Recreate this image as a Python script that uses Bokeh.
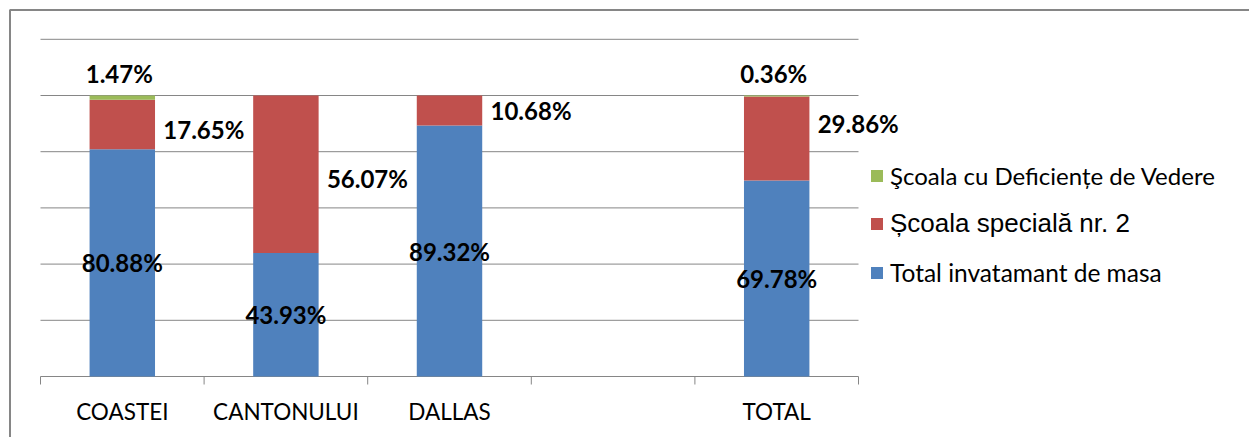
from bokeh.plotting import figure
from bokeh.models import (Range1d, Legend, LegendItem, ColumnDataSource,
                          BoxAnnotation)
from bokeh.core.properties import value
from bokeh.embed import file_html
from bokeh.resources import INLINE

# --- data (percent shares per school area) ---
categories = ["COASTEI", "CANTONULUI", "DALLAS", "", "TOTAL"]
bar_categories = ["COASTEI", "CANTONULUI", "DALLAS", "TOTAL"]
masa = [80.88, 43.93, 89.32, 69.78]          # Total invatamant de masa
speciala = [17.65, 56.07, 10.68, 29.86]      # Școala specială nr. 2
deficiente = [1.47, 0.0, 0.0, 0.36]          # Şcoala cu Deficiențe de Vedere
y_ticks = [0, 20, 40, 60, 80, 100, 120]

name_blue = "Total invatamant de masa"
name_red = "Școala specială nr. 2"
name_green = "Şcoala cu Deficiențe de Vedere"

BLUE, RED, GREEN = "#4F81BD", "#C0504D", "#9BBB59"
GRID = "#868686"

# --- page geometry: the plot frame covers the whole canvas ---
W, H = 1249, 437
PLOT_LEFT, AXIS_Y = 40, 376          # pixel of x=0 and of y=0
CAT_W = 163.6                        # pixels per category slot
UNIT_Y = 2.81                        # pixels per percent


def px_x(px):
    return (px - PLOT_LEFT) / CAT_W


def px_y(py):
    return (AXIS_Y - py) / UNIT_Y


xs = [categories.index(c) + 0.5 for c in bar_categories]
red_top = [a + b for a, b in zip(masa, speciala)]
green_top = [t + g for t, g in zip(red_top, deficiente)]
red_nudge = [5, 4, 0, -15]           # small vertical shifts of the red labels (px)

src = ColumnDataSource(dict(
    x=xs, masa=masa, red_bottom=masa, red_top=red_top, green_top=green_top,
    blue_mid=[m / 2 for m in masa],
    red_mid=[b + s / 2 for b, s in zip(masa, speciala)],
    red_nudge=red_nudge,
    blue_lbl=[f"{v:.2f}%" for v in masa],
    red_lbl=[f"{v:.2f}%" for v in speciala],
))
gi = [i for i, v in enumerate(deficiente) if v > 0]
gsrc = ColumnDataSource(dict(
    x=[xs[i] for i in gi], top=[green_top[i] for i in gi],
    lbl=[f"{deficiente[i]:.2f}%" for i in gi],
))

p = figure(width=W, height=H, output_backend="svg", toolbar_location=None,
           x_range=Range1d(px_x(0), px_x(W)), y_range=Range1d(px_y(H), px_y(0)),
           min_border=0)
p.outline_line_color = None
p.xaxis.visible = False
p.yaxis.visible = False
p.grid.visible = False
p.background_fill_color = "white"
p.border_fill_color = "white"

# horizontal gridlines over the category slots (the one at 0 is the axis line)
n = len(categories)
p.segment(x0=[0] * len(y_ticks), x1=[n] * len(y_ticks), y0=y_ticks, y1=y_ticks,
          line_color=GRID, line_width=1)

# tick marks on the category boundaries
bounds = list(range(n + 1))
p.segment(x0=bounds, x1=bounds, y0=[0] * len(bounds),
          y1=[-8 / UNIT_Y] * len(bounds), line_color=GRID, line_width=1)

# category labels
p.text(x=[i + 0.5 for i in range(n)], y=[0] * n, text=categories,
       text_font=value("Lato"), text_font_size="22.5px", text_color="black",
       text_align="center", text_baseline="middle", y_offset=35)

# bars
r_blue = p.vbar(x="x", width=0.4, bottom=0, top="masa", source=src,
                fill_color=BLUE, line_color=None)
r_red = p.vbar(x="x", width=0.4, bottom="red_bottom", top="red_top", source=src,
               fill_color=RED, line_color=None)
r_green = p.vbar(x="x", width=0.4, bottom="red_top", top="green_top", source=src,
                 fill_color=GREEN, line_color=None)

# value labels
lbl_font = value("Lato")
p.text(x="x", y="blue_mid", text="blue_lbl", source=src, text_font=lbl_font,
       text_font_style="bold", text_font_size="24px", text_color="black",
       text_align="center", text_baseline="middle")
p.text(x="x", y="red_mid", text="red_lbl", source=src, text_font=lbl_font,
       text_font_style="bold", text_font_size="24px", text_color="black",
       text_align="left", text_baseline="middle", x_offset=41, y_offset="red_nudge")
p.text(x="x", y="top", text="lbl", source=gsrc, text_font=lbl_font,
       text_font_style="bold", text_font_size="24px", text_color="black",
       text_align="center", text_baseline="middle", y_offset=-22, x_offset=-3)


# legend, one entry per box so each can keep its own typeface
def legend_box(label, renderer, center_y, font, size):
    lg = Legend(items=[LegendItem(label=label, renderers=[renderer])],
                location=(869, H - center_y - 12), padding=0, margin=0, spacing=0,
                glyph_width=15, glyph_height=15, label_height=24,
                label_standoff=6, border_line_color=None,
                background_fill_alpha=0, label_text_font=font,
                label_text_font_size=size, label_text_color="black",
                label_text_baseline="middle")
    p.add_layout(lg, "center")


legend_box(name_green, r_green, 178, "Lato", "24px")
legend_box(name_red, r_red, 227, "Liberation Sans", "26px")
legend_box(name_blue, r_blue, 275, "Lato", "24.5px")

# chart border (its right and bottom edges lie beyond the page)
p.add_layout(BoxAnnotation(left=px_x(9.5), right=px_x(1300), top=px_y(9.5),
                           bottom=px_y(500), fill_alpha=0, line_alpha=1,
                           line_color=GRID, line_width=2))

open("out.html", "w").write(file_html(p, INLINE))
